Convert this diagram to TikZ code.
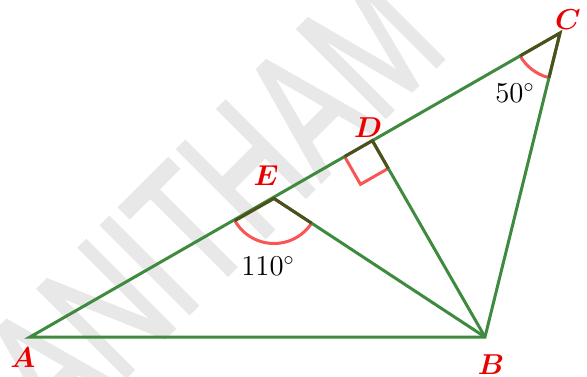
\documentclass[tikz,border=0pt]{standalone}
\usepackage{fontspec}
\newfontfamily\wmfont[FakeBold=2]{Liberation Sans}
\usetikzlibrary{calc,angles}
\definecolor{lgreen}{RGB}{62,138,62}
\definecolor{olive}{RGB}{78,80,28}
\definecolor{arcred}{RGB}{250,85,85}
\definecolor{lblred}{RGB}{235,0,0}
\definecolor{wm}{RGB}{232,232,232}
\tikzset{
  side/.style={draw=lgreen, line width=1.5pt},
  tick/.style={draw=olive, line width=1.5pt},
  amark/.style={draw=arcred, line width=1.5pt},
  lbl/.style={text=lblred, font=\Large\boldmath, inner sep=0pt},
  val/.style={text=black, font=\Large, inner sep=0pt},
}
\begin{document}
\begin{tikzpicture}[x=0.5pt,y=-0.5pt]
\useasboundingbox (0,0) rectangle (587,376);
\begin{scope}
\clip (0,0) rectangle (587,376);
\node[text=wm, rotate=45, font=\wmfont\fontsize{90}{90}\selectfont, inner sep=0pt] (wmk) at (212,203) {\scalebox{0.68}[1]{ANITHAM}};
\end{scope}
\coordinate (A) at (30,337);
\coordinate (B) at (485,337);
\coordinate (C) at (560,33);
\coordinate (D) at ($(A)!(B)!(C)$);
\coordinate (E) at (274,198.5);
% angle marks
\pic[amark, angle radius=22.5pt] {angle = A--E--B};
\pic[amark, angle radius=23pt] {angle = A--C--B};
\pic[amark, angle radius=16pt] {right angle = A--D--B};
% sides
\draw[side] (A) -- (B) -- (C) -- cycle;
\draw[side] (E) -- (B);
\draw[side] (D) -- (B);
% ticks
\draw[tick] ($(E)!22.5pt!(A)$) -- (E) -- ($(E)!22.5pt!(B)$);
\draw[tick] ($(D)!16pt!(A)$) -- (D) -- ($(D)!16pt!(B)$);
\draw[tick] ($(C)!23pt!(A)$) -- (C) -- ($(C)!23pt!(B)$);
% labels
\node[lbl] (lA) at (23,358) {$A$};
\node[lbl] (lB) at (491,365) {$B$};
\node[lbl] (lC) at (568,20) {$C$};
\node[lbl] (lD) at (368,128) {$D$};
\node[lbl] (lE) at (266,176) {$E$};
\node[val] (v1) at (268,266) {$110^\circ$};
\node[val] (v2) at (515,93) {$50^\circ$};
\end{tikzpicture}
\end{document}
